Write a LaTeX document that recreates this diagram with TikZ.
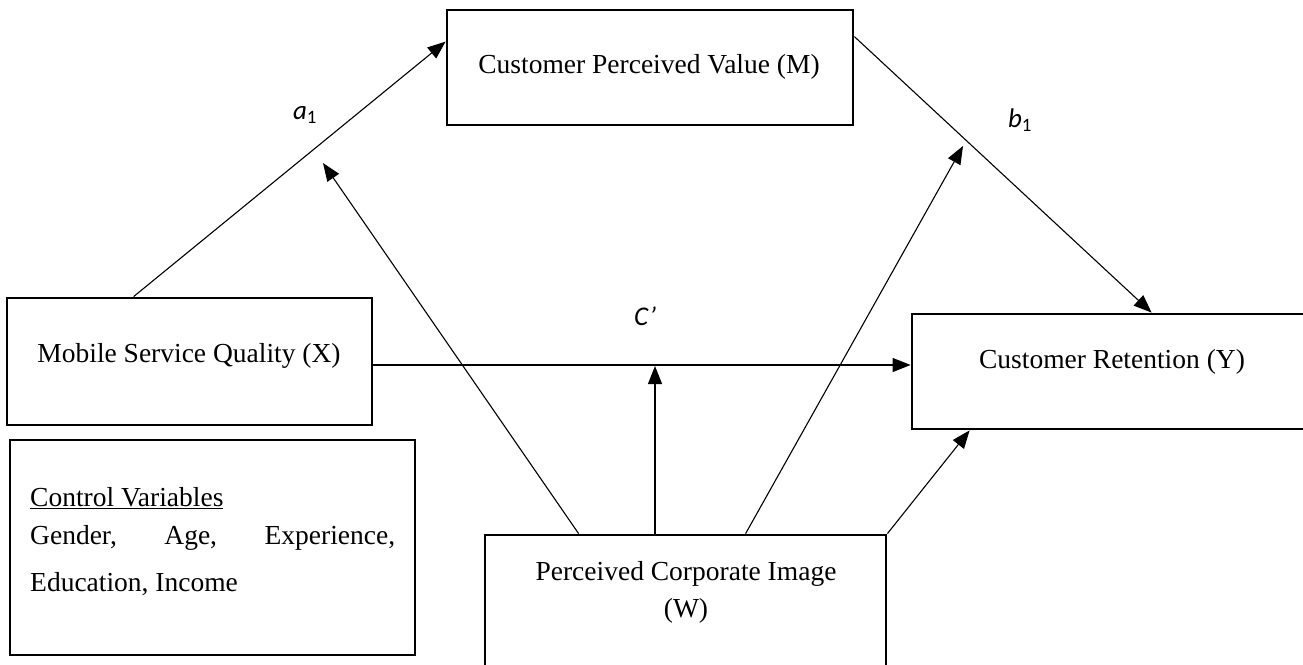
\documentclass[tikz,border=0pt]{standalone}
\usepackage{fontspec}
\setmainfont{Liberation Serif}
\newfontfamily\labfont{Carlito}
\usetikzlibrary{arrows.meta,calc}
\begin{document}
\begin{tikzpicture}[x=1pt,y=-1pt,
  box/.style={draw, line width=2.8pt, inner sep=0pt},
  txt/.style={inner sep=0pt, font=\fontsize{27.5}{33}\selectfont},
  lab/.style={inner sep=0pt, font=\labfont\itshape\fontsize{27}{32}\selectfont},
  arr/.style={-{Triangle[length=18pt,width=14pt]}, line width=1.1pt}]
\useasboundingbox (0,0) rectangle (1303,664);
\clip (0,0) rectangle (1303,664);
% boxes
\node[box, minimum width=406pt, minimum height=115pt] (M) at (650,67.5) {};
\node[box, minimum width=365pt, minimum height=127pt] (X) at (189.5,361.5) {};
\node[box, minimum width=398pt, minimum height=115pt] (Y) at (1111,371.5) {};
\node[box, minimum width=405pt, minimum height=215pt] (C) at (212.5,547.5) {};
\node[box, minimum width=401pt, minimum height=140pt] (W) at (685.5,605) {};
% texts
\node[txt, anchor=base] (Mt) at (649,73) {Customer Perceived Value (M)};
\node[txt, anchor=base] (Xt) at (189,362) {Mobile Service Quality (X)};
\node[txt, anchor=base] (Yt) at (1112,368) {Customer Retention (Y)};
\node[txt, anchor=base] (Wt1) at (686,580) {Perceived Corporate Image};
\node[txt, anchor=base] (Wt2) at (686,617) {(W)};
\node[txt, anchor=base west] (Ct) at (30,506) {\parbox[t]{365pt}{\baselineskip=38pt\underline{Control Variables}\\Gender,\hfill Age,\hfill Experience,\\[9pt]Education, Income}};
% labels
\node[lab] (la) at (305,115) {a\textsubscript{\upshape 1}};
\node[lab] (lb) at (1020,120) {b\textsubscript{\upshape 1}};
\node[lab] (lc) at (645,316) {C’};
% connector points
\coordinate (amid) at (323,163);
\coordinate (bmid) at (963,146);
\coordinate (cmid) at (655,366);
% main paths
\draw[arr] ([xshift=128pt]X.north west) -- ([yshift=-33pt]M.north west);
\draw[arr] ([yshift=-28pt]M.north east) -- ([xshift=241pt]Y.north west);
\draw[arr] ([yshift=-3.5pt]X.east) -- ([yshift=-3.5pt]X.east -| Y.west);
% moderation paths
\draw[arr] ([xshift=95pt]W.north west) -- (amid);
\draw[arr] (W.north -| cmid) -- (cmid);
\draw[arr] ([xshift=262pt]W.north west) -- (bmid);
\draw[arr] (W.north east) -- ([xshift=59pt]Y.south west);
\end{tikzpicture}
\end{document}
